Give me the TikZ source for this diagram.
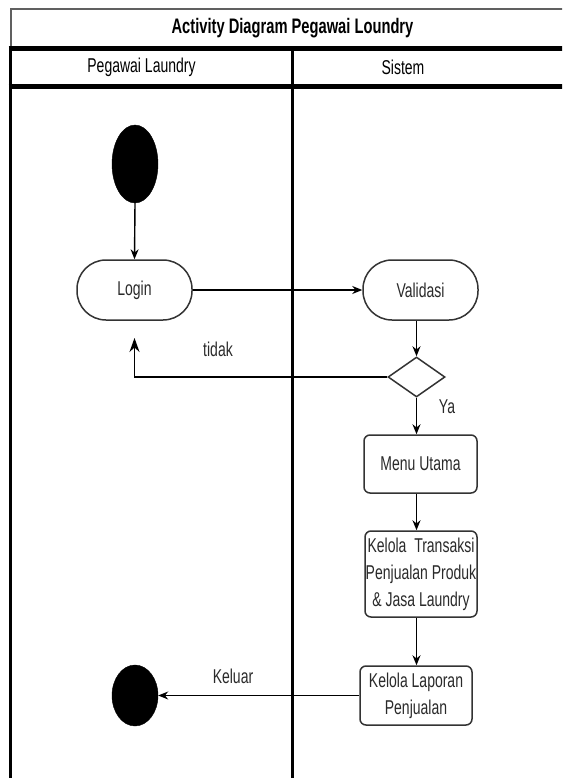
\documentclass[tikz,border=0pt]{standalone}
\usepackage{fontspec}
\setmainfont{Liberation Sans}[FakeStretch=0.7]
\usetikzlibrary{shapes.geometric,arrows.meta}
\definecolor{txt}{HTML}{2A2A2A}
\definecolor{edge}{HTML}{333333}
\tikzset{
  act/.style={draw=edge, line width=1.5pt, rounded corners=29pt, minimum width=115pt, minimum height=60pt, inner sep=0pt, font=\fontsize{20}{27}\selectfont, text=txt, align=center},
  stepbox/.style={draw=edge, line width=1.5pt, rounded corners=6pt, minimum width=112pt, inner sep=0pt, font=\fontsize{20}{27}\selectfont, text=txt, align=center},
  dot/.style={ellipse, fill=black, draw=black, inner sep=0pt},
  flow/.style={draw=black, line width=1.4pt, -{Stealth[length=10pt,width=8pt]}},
  lbl/.style={font=\fontsize{20}{24}\selectfont, text=txt, inner sep=0pt},
  hdr/.style={font=\fontsize{20}{24}\selectfont, text=black, inner sep=0pt}
}
\begin{document}
\begin{tikzpicture}[x=1pt,y=-1pt]
\useasboundingbox (0,0) rectangle (562,778);
\clip (0,0) rectangle (562,778);
\fill[white] (0,0) rectangle (562,778);
% frame
\draw[gray!75!black, line width=1.6pt] (11,48) -- (11,9) -- (570,9);
\draw[black, line width=4.4pt] (8.5,48.5) -- (570,48.5);
\draw[black, line width=4.4pt] (8.5,86.5) -- (570,86.5);
\draw[black, line width=3.6pt] (10.5,46.5) -- (10.5,790);
\draw[black, line width=3.4pt] (292.5,46.5) -- (292.5,790);
% headers
\node[hdr, font=\fontsize{21}{24}\selectfont\bfseries] (title) at (292.5,28) {Activity Diagram Pegawai Loundry};
\node[hdr] (lane1) at (141.5,67.5) {Pegawai Laundry};
\node[hdr] (lane2) at (403,67.5) {Sistem};
% nodes
\node[dot, minimum width=46pt, minimum height=78pt] (init) at (135,164) {};
\node[act] (login) at (134.5,290) {Login};
\node[act] (valid) at (420.5,290) {Validasi};
\node[diamond, draw=edge, line width=1.5pt, minimum width=57pt, minimum height=40pt, inner sep=0pt] (dec) at (416.5,377) {};
\node[stepbox, minimum width=113pt, minimum height=58pt] (menu) at (420.5,464) {Menu Utama};
\node[stepbox, minimum height=86pt] (trans) at (421,574) {Kelola\ \ Transaksi\\Penjualan Produk\\\& Jasa Laundry};
\node[stepbox, minimum height=59pt] (lap) at (416,695.5) {Kelola Laporan\\Penjualan};
\node[dot, minimum width=46pt, minimum height=61pt] (final) at (135,695.5) {};
\coordinate (tidakend) at (134.5,338);
% labels
\node[lbl] (tidak) at (218,349) {tidak};
\node[lbl] (ya) at (447,407) {Ya};
\node[lbl] (keluar) at (233,676) {Keluar};
% connectors
\draw[flow] (init.south) -- (login.north);
\draw[flow] (login.east) -- (valid.west);
\draw[flow] (valid.south -| dec.north) -- (dec.north);
\draw[flow, -{Stealth[length=14pt,width=10pt]}] (dec.west) -| (tidakend);
\draw[flow] (dec.south) -- (dec.south |- menu.north);
\draw[flow] (dec.south |- menu.south) -- (dec.south |- trans.north);
\draw[flow] (dec.south |- trans.south) -- (dec.south |- lap.north);
\draw[flow] (lap.west) -- (final.east);
\end{tikzpicture}
\end{document}
